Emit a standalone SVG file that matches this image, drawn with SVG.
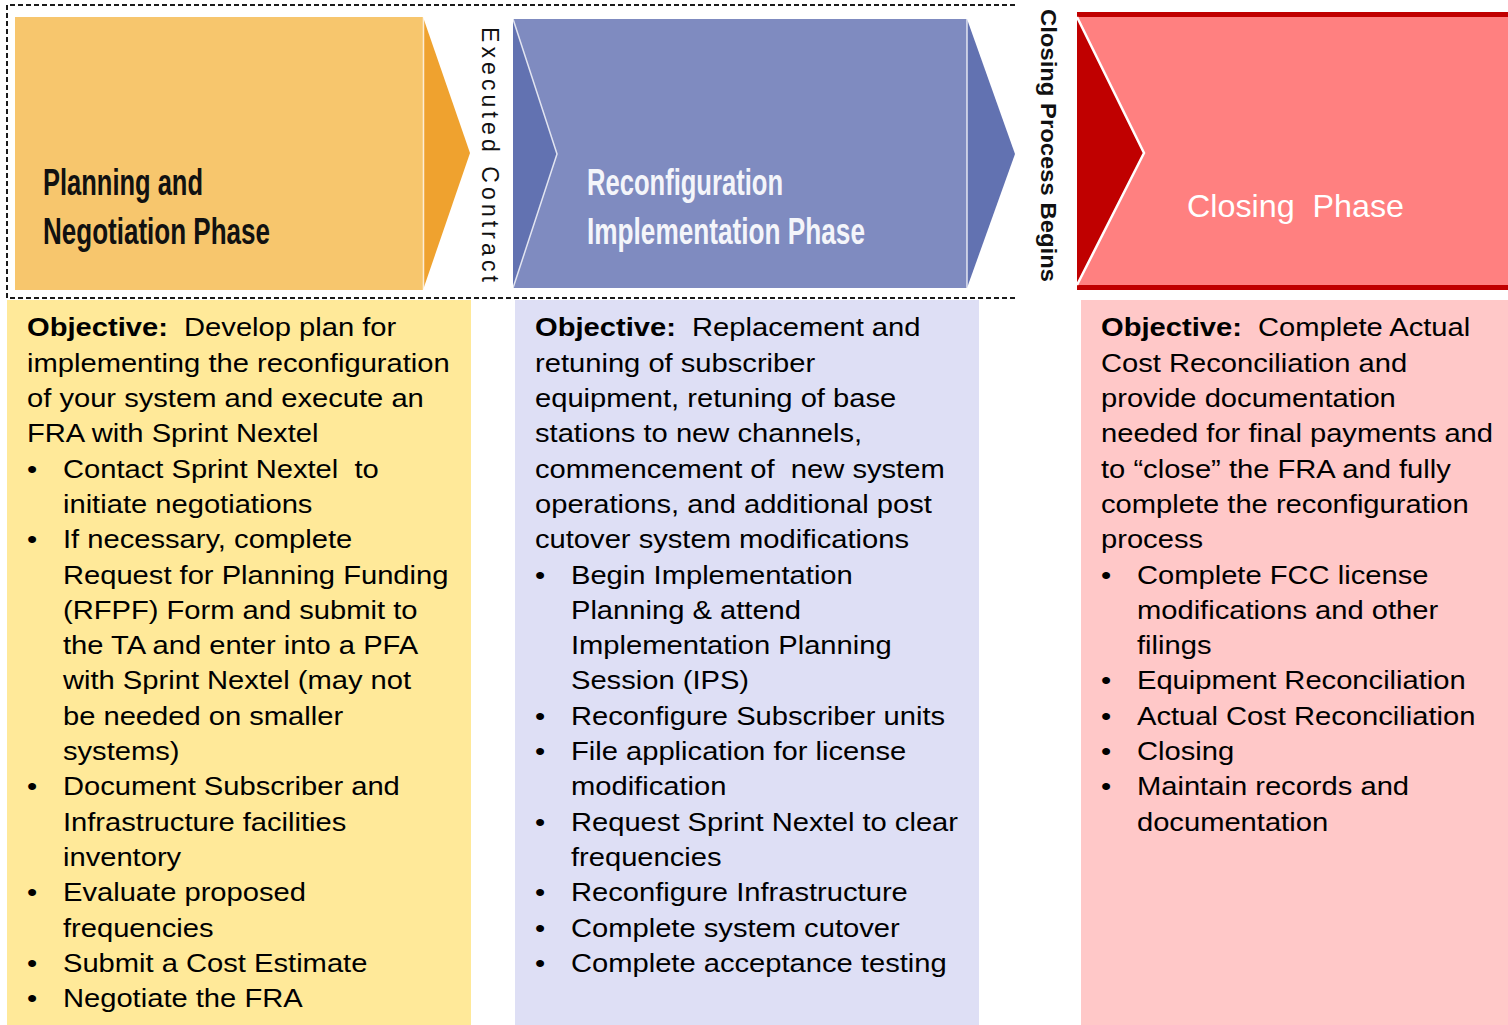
<svg xmlns="http://www.w3.org/2000/svg" width="1508" height="1025" viewBox="0 0 1508 1025">
<style>
text{font-family:"Liberation Sans",Arial,sans-serif;white-space:pre;}
.body{font-size:26.5px;fill:#000;}
.b{font-weight:bold;}
.head{font-family:"Liberation Sans Narrow","Liberation Sans",Arial,sans-serif;font-weight:bold;font-size:37px;}
.dash{fill:none;stroke:#1a1a1a;stroke-width:2;stroke-dasharray:5 3;}
.edge{fill:none;stroke:#ffffff;stroke-width:1.5;stroke-opacity:0.8;}
</style>
<rect width="1508" height="1025" fill="#ffffff"/>

<g id="connectors">
<path class="dash" d="M1015 5 H7 V298 H1015"/>
</g>

<g id="phase-planning">
<rect x="15" y="17" width="408" height="273" fill="#F7C66D"/>
<polygon points="423,17 470,153 423,290" fill="#EFA22F"/>
<line class="edge" x1="423.5" y1="17" x2="423.5" y2="290"/>
<text class="head" fill="#111111"><tspan x="43" y="195" textLength="160" lengthAdjust="spacingAndGlyphs">Planning and</tspan><tspan x="43" y="244" textLength="227" lengthAdjust="spacingAndGlyphs">Negotiation Phase</tspan></text>
</g>

<g id="label-executed">
<text transform="translate(482,27) rotate(90)" font-size="23" fill="#111" textLength="255" lengthAdjust="spacing">Executed Contract</text>
</g>

<g id="phase-implementation">
<rect x="513" y="19" width="454" height="269" fill="#7F8BC0"/>
<polygon points="513,19 557,154 513,288" fill="#6272B1"/>
<polygon points="967,19 1015,154 967,288" fill="#6272B1"/>
<polyline class="edge" points="513,19 557,154 513,288"/>
<line class="edge" x1="967" y1="19" x2="967" y2="288"/>
<text class="head" fill="#F4F5FA"><tspan x="587" y="195" textLength="196" lengthAdjust="spacingAndGlyphs">Reconfiguration</tspan><tspan x="587" y="244" textLength="278" lengthAdjust="spacingAndGlyphs">Implementation Phase</tspan></text>
</g>

<g id="label-closing-begins">
<text transform="translate(1041,9) rotate(90)" font-size="22" font-weight="bold" fill="#111" textLength="273" lengthAdjust="spacingAndGlyphs">Closing Process Begins</text>
</g>

<g id="phase-closing">
<rect x="1077" y="12" width="431" height="278" fill="#C00000"/>
<polygon points="1077,17 1508,17 1508,285 1077,285 1144,153" fill="#FF8080"/>
<polyline points="1077,17 1144,153 1077,285" fill="none" stroke="#ffffff" stroke-width="2.5"/>
<text x="1187" y="217" font-size="32" fill="#ffffff" textLength="217" lengthAdjust="spacingAndGlyphs">Closing  Phase</text>
</g>

<g id="panel-planning">
<rect x="7" y="300" width="464" height="725" fill="#FFE999"/>
<g transform="translate(27,0) scale(1.1,1)">
<text class="body">
<tspan x="0" y="336.5" class="b">Objective:</tspan><tspan>  Develop plan for</tspan>
<tspan x="0" y="371.8">implementing the reconfiguration</tspan>
<tspan x="0" y="407.1">of your system and execute an</tspan>
<tspan x="0" y="442.4">FRA with Sprint Nextel</tspan>
<tspan x="0" y="477.7">•</tspan><tspan x="32.7" y="477.7">Contact Sprint Nextel  to</tspan>
<tspan x="32.7" y="513">initiate negotiations</tspan>
<tspan x="0" y="548.3">•</tspan><tspan x="32.7" y="548.3">If necessary, complete</tspan>
<tspan x="32.7" y="583.6">Request for Planning Funding</tspan>
<tspan x="32.7" y="618.9">(RFPF) Form and submit to</tspan>
<tspan x="32.7" y="654.2">the TA and enter into a PFA</tspan>
<tspan x="32.7" y="689.5">with Sprint Nextel (may not</tspan>
<tspan x="32.7" y="724.8">be needed on smaller</tspan>
<tspan x="32.7" y="760.1">systems)</tspan>
<tspan x="0" y="795.4">•</tspan><tspan x="32.7" y="795.4">Document Subscriber and</tspan>
<tspan x="32.7" y="830.7">Infrastructure facilities</tspan>
<tspan x="32.7" y="866">inventory</tspan>
<tspan x="0" y="901.3">•</tspan><tspan x="32.7" y="901.3">Evaluate proposed</tspan>
<tspan x="32.7" y="936.6">frequencies</tspan>
<tspan x="0" y="971.9">•</tspan><tspan x="32.7" y="971.9">Submit a Cost Estimate</tspan>
<tspan x="0" y="1007.2">•</tspan><tspan x="32.7" y="1007.2">Negotiate the FRA</tspan>
</text>
</g>
</g>

<g id="panel-implementation">
<rect x="515" y="300" width="464" height="725" fill="#DEDFF5"/>
<g transform="translate(535,0) scale(1.1,1)">
<text class="body">
<tspan x="0" y="336.5" class="b">Objective:</tspan><tspan>  Replacement and</tspan>
<tspan x="0" y="371.8">retuning of subscriber</tspan>
<tspan x="0" y="407.1">equipment, retuning of base</tspan>
<tspan x="0" y="442.4">stations to new channels,</tspan>
<tspan x="0" y="477.7">commencement of  new system</tspan>
<tspan x="0" y="513">operations, and additional post</tspan>
<tspan x="0" y="548.3">cutover system modifications</tspan>
<tspan x="0" y="583.6">•</tspan><tspan x="32.7" y="583.6">Begin Implementation</tspan>
<tspan x="32.7" y="618.9">Planning &amp; attend</tspan>
<tspan x="32.7" y="654.2">Implementation Planning</tspan>
<tspan x="32.7" y="689.5">Session (IPS)</tspan>
<tspan x="0" y="724.8">•</tspan><tspan x="32.7" y="724.8">Reconfigure Subscriber units</tspan>
<tspan x="0" y="760.1">•</tspan><tspan x="32.7" y="760.1">File application for license</tspan>
<tspan x="32.7" y="795.4">modification</tspan>
<tspan x="0" y="830.7">•</tspan><tspan x="32.7" y="830.7">Request Sprint Nextel to clear</tspan>
<tspan x="32.7" y="866">frequencies</tspan>
<tspan x="0" y="901.3">•</tspan><tspan x="32.7" y="901.3">Reconfigure Infrastructure</tspan>
<tspan x="0" y="936.6">•</tspan><tspan x="32.7" y="936.6">Complete system cutover</tspan>
<tspan x="0" y="971.9">•</tspan><tspan x="32.7" y="971.9">Complete acceptance testing</tspan>
</text>
</g>
</g>

<g id="panel-closing">
<rect x="1081" y="300" width="427" height="725" fill="#FFC8C8"/>
<g transform="translate(1101,0) scale(1.1,1)">
<text class="body">
<tspan x="0" y="336.5" class="b">Objective:</tspan><tspan>  Complete Actual</tspan>
<tspan x="0" y="371.8">Cost Reconciliation and</tspan>
<tspan x="0" y="407.1">provide documentation</tspan>
<tspan x="0" y="442.4">needed for final payments and</tspan>
<tspan x="0" y="477.7">to “close” the FRA and fully</tspan>
<tspan x="0" y="513">complete the reconfiguration</tspan>
<tspan x="0" y="548.3">process</tspan>
<tspan x="0" y="583.6">•</tspan><tspan x="32.7" y="583.6">Complete FCC license</tspan>
<tspan x="32.7" y="618.9">modifications and other</tspan>
<tspan x="32.7" y="654.2">filings</tspan>
<tspan x="0" y="689.5">•</tspan><tspan x="32.7" y="689.5">Equipment Reconciliation</tspan>
<tspan x="0" y="724.8">•</tspan><tspan x="32.7" y="724.8">Actual Cost Reconciliation</tspan>
<tspan x="0" y="760.1">•</tspan><tspan x="32.7" y="760.1">Closing</tspan>
<tspan x="0" y="795.4">•</tspan><tspan x="32.7" y="795.4">Maintain records and</tspan>
<tspan x="32.7" y="830.7">documentation</tspan>
</text>
</g>
</g>
</svg>
